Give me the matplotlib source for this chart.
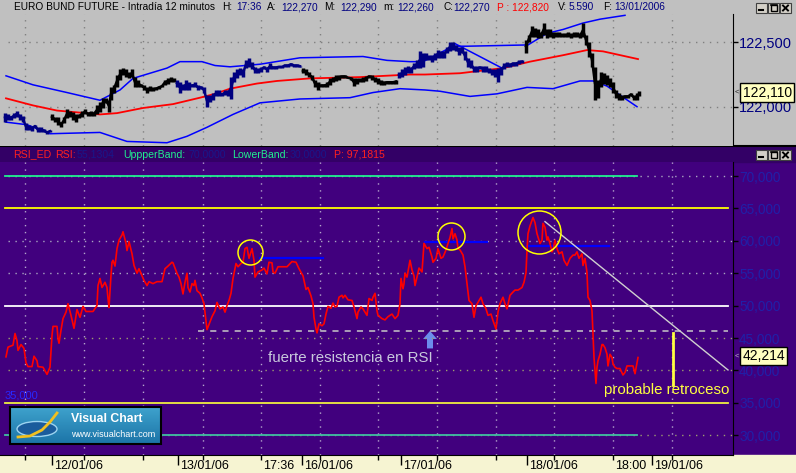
import matplotlib
matplotlib.use("Agg")
import matplotlib.pyplot as plt
import matplotlib.transforms as mtransforms
from matplotlib.patches import Rectangle, Ellipse, FancyArrow
import numpy as np

plt.rcParams['font.family'] = ['Liberation Sans', 'DejaVu Sans']

W, H = 796, 473

# ---- time axis ----
grid_t = [25, 84, 143, 203, 261, 320, 378, 437, 496, 554, 613, 672]
date_t = [52, 178, 302, 401, 527, 652]
date_labels = ["12/01/06", "13/01/06", "16/01/06", "17/01/06", "18/01/06", "19/01/06"]
time_t = [261, 613]
time_labels = ["17:36", "18:00"]

# ---- price bars (12 min) ----
bar_t = ([5, 8, 11, 14, 17, 20, 23, 26, 29, 32, 35, 38, 41, 44, 47, 50]
         + list(range(52, 110, 3)) + list(range(111, 175, 3))
         + list(range(177, 301, 3)) + list(range(303, 397, 3))
         + list(range(399, 523, 3)) + list(range(526, 638, 3)) + [639])
bar_lo = [121.88, 121.90, 121.90, 121.91, 121.92, 121.90, 121.88, 121.82, 121.82, 121.81, 121.84, 121.80, 121.80, 121.80, 121.79, 121.80,
          121.90, 121.88, 121.86, 121.84, 121.87, 121.91, 121.92, 121.90, 121.88, 121.91, 121.92, 121.94, 121.93, 121.93, 121.93, 121.94,
          121.96, 121.99, 122.03, 121.96, 122.05, 122.11, 122.15, 122.21, 122.25, 122.23, 122.22, 122.23, 122.15, 122.15, 122.15, 122.13,
          122.11, 122.12, 122.12, 122.13, 122.14, 122.15, 122.17, 122.18, 122.19, 122.19,
          122.15, 122.11, 122.13, 122.13, 122.13, 122.15, 122.15, 122.13, 122.14, 122.11,
          122.00, 122.04, 122.05, 122.08, 122.08, 122.08, 122.09, 122.08, 122.06, 122.19,
          122.22, 122.25, 122.23, 122.30, 122.31, 122.29, 122.26, 122.26, 122.27, 122.29,
          122.27, 122.29, 122.29, 122.29, 122.30, 122.30, 122.31, 122.31, 122.32, 122.31, 122.31, 122.31,
          122.26, 122.25, 122.23, 122.21, 122.15, 122.13, 122.15, 122.15, 122.15, 122.17,
          122.19, 122.20, 122.21, 122.22, 122.22, 122.22, 122.21, 122.16, 122.18, 122.19,
          122.19, 122.20, 122.22, 122.21, 122.19, 122.18, 122.17, 122.17, 122.18, 122.18, 122.18, 122.18,
          122.22, 122.23, 122.25, 122.26, 122.26, 122.29, 122.30, 122.30, 122.31, 122.36,
          122.36, 122.35, 122.36, 122.38, 122.38, 122.38, 122.42, 122.43, 122.44, 122.43,
          122.40, 122.42, 122.36, 122.31, 122.30, 122.27, 122.27, 122.29, 122.27, 122.27,
          122.26, 122.25, 122.23, 122.19, 122.25, 122.29, 122.31, 122.31, 122.32, 122.32, 122.33, 122.34,
          122.42, 122.50, 122.54, 122.54, 122.53, 122.53, 122.56, 122.53, 122.54, 122.53,
          122.54, 122.54, 122.54, 122.54, 122.54, 122.53, 122.54, 122.54, 122.53, 122.54,
          122.48, 122.39, 122.31, 122.05, 122.07, 122.15, 122.18, 122.17, 122.15, 122.11,
          122.07, 122.05, 122.05, 122.07, 122.07, 122.08, 122.05, 122.05, 122.08]
bar_hi = [121.95, 121.94, 121.93, 121.95, 121.97, 121.94, 121.93, 121.87, 121.86, 121.85, 121.86, 121.84, 121.84, 121.83, 121.81, 121.82,
          121.94, 121.92, 121.92, 121.88, 121.92, 121.98, 121.97, 121.96, 121.94, 121.94, 121.97, 121.98, 121.96, 121.97, 121.96, 122.01,
          122.04, 122.07, 122.07, 122.05, 122.15, 122.17, 122.25, 122.29, 122.30, 122.29, 122.27, 122.29, 122.23, 122.21, 122.18, 122.17,
          122.15, 122.16, 122.15, 122.15, 122.16, 122.17, 122.21, 122.22, 122.23, 122.22,
          122.21, 122.19, 122.18, 122.21, 122.19, 122.18, 122.19, 122.17, 122.16, 122.15,
          122.09, 122.09, 122.11, 122.13, 122.13, 122.11, 122.13, 122.13, 122.23, 122.27,
          122.29, 122.30, 122.29, 122.36, 122.38, 122.35, 122.31, 122.30, 122.31, 122.32,
          122.31, 122.34, 122.32, 122.32, 122.32, 122.32, 122.33, 122.33, 122.34, 122.33, 122.33, 122.32,
          122.30, 122.29, 122.27, 122.25, 122.21, 122.19, 122.18, 122.18, 122.19, 122.22,
          122.23, 122.25, 122.25, 122.25, 122.25, 122.23, 122.23, 122.22, 122.22, 122.22,
          122.23, 122.24, 122.25, 122.25, 122.23, 122.22, 122.21, 122.20, 122.20, 122.20, 122.20, 122.21,
          122.27, 122.29, 122.31, 122.32, 122.31, 122.34, 122.36, 122.43, 122.42, 122.42,
          122.40, 122.40, 122.42, 122.44, 122.43, 122.43, 122.46, 122.50, 122.50, 122.48,
          122.46, 122.46, 122.43, 122.38, 122.36, 122.32, 122.32, 122.32, 122.32, 122.32,
          122.30, 122.29, 122.29, 122.30, 122.31, 122.34, 122.35, 122.34, 122.35, 122.35, 122.36, 122.36,
          122.52, 122.56, 122.63, 122.61, 122.60, 122.58, 122.65, 122.60, 122.60, 122.58,
          122.58, 122.58, 122.57, 122.57, 122.58, 122.57, 122.58, 122.58, 122.57, 122.65,
          122.56, 122.50, 122.42, 122.31, 122.21, 122.27, 122.26, 122.25, 122.22, 122.19,
          122.13, 122.11, 122.09, 122.09, 122.09, 122.11, 122.09, 122.11, 122.12]
seg_edges = [0, 51, 176, 302, 398, 524, 733]
seg_colors = ["#000080", "#000000", "#000080", "#000000", "#000080", "#000000"]
last_price = 122.110

# bands
up_t = [6, 33, 67, 100, 120, 133, 167, 180, 202, 215, 230, 260, 300, 363, 387, 410, 423, 453, 467, 528, 547, 563, 583, 600, 625]
up_v = [122.24, 122.17, 122.11, 122.05, 122.13, 122.22, 122.30, 122.35, 122.35, 122.32, 122.31, 122.33, 122.38, 122.39, 122.36,
        122.35, 122.35, 122.47, 122.47, 122.48, 122.57, 122.60, 122.65, 122.68, 122.71]
mid_t = [6, 33, 57, 100, 117, 143, 173, 200, 215, 230, 257, 277, 310, 360, 410, 425, 460, 503, 530, 563, 587, 603, 638]
mid_v = [122.065, 122.01, 121.97, 121.94, 121.95, 121.99, 122.02, 122.07, 122.10, 122.14, 122.18, 122.20, 122.22, 122.23, 122.25,
         122.25, 122.26, 122.30, 122.35, 122.40, 122.44, 122.43, 122.37]
low_t = [6, 27, 50, 100, 127, 167, 187, 207, 233, 260, 300, 350, 373, 400, 425, 440, 470, 497, 527, 553, 580, 593, 607, 620, 637]
low_v = [121.88, 121.86, 121.79, 121.80, 121.73, 121.72, 121.77, 121.84, 121.94, 122.03, 122.06, 122.07, 122.11, 122.14, 122.13,
         122.12, 122.08, 122.10, 122.15, 122.14, 122.20, 122.20, 122.16, 122.09, 122.00]
trend_p_t = [455, 502]
trend_p_v = [122.49, 122.30]

# ---- RSI ----
rsi_t = [6, 8, 13, 15, 17, 18, 21, 24, 26, 28, 32, 34, 37, 38, 43, 47, 50, 52, 53, 57, 58, 59, 61, 63, 66, 68, 71, 74, 77, 80,
         83, 86, 93, 97, 98, 100, 102, 105, 107, 108, 109, 111, 112, 113, 115, 117, 119, 122, 123, 126, 127, 129, 132, 134, 137,
         139, 142, 144, 147, 149, 153, 157, 162, 165, 168, 172, 173, 177, 179, 181, 183, 185, 187, 188, 190, 192, 194, 195, 197,
         200, 202, 204, 206, 207, 210, 212, 215, 217, 220, 223, 225, 227, 229, 231, 233, 236, 238, 241, 243, 245, 247, 249, 252,
         254, 255, 258, 262, 264, 267, 269, 272, 273, 275, 278, 287, 292, 296, 299, 303, 306, 308, 311, 313, 314, 316, 317, 319,
         322, 324, 326, 328, 331, 333, 335, 337, 339, 342, 343, 345, 348, 352, 354, 357, 358, 361, 363, 367, 369, 372, 373, 375,
         377, 378, 382, 385, 388, 392, 395, 398, 400, 401, 403, 404, 405, 407, 410, 412, 414, 415, 417, 419, 422, 423, 424, 427,
         429, 432, 433, 436, 438, 441, 443, 446, 448, 450, 452, 453, 455, 457, 458, 460, 463, 465, 467, 469, 472, 474, 476, 478,
         481, 483, 486, 488, 491, 493, 496, 498, 500, 503, 505, 507, 510, 513, 515, 518, 522, 524, 526, 527, 528, 530, 533, 535,
         537, 540, 542, 543, 545, 547, 548, 550, 552, 553, 555, 557, 559, 562, 564, 567, 570, 573, 575, 577, 579, 582, 583, 585,
         587, 588, 590, 592, 593, 594, 596, 597, 598, 600, 602, 603, 605, 607, 608, 610, 612, 613, 615, 617, 620, 623, 625, 627,
         630, 633, 635, 637, 638]
rsi_v = [42.1, 43.6, 43.9, 45.7, 44.6, 43.1, 44.0, 43.4, 41.2, 40.6, 40.6, 42.2, 41.5, 40.6, 40.5, 39.4, 40.5, 45.4, 46.8, 46.8,
         44.9, 44.2, 46.2, 48.0, 49.0, 50.3, 48.5, 46.5, 49.4, 48.2, 49.9, 49.1, 49.1, 50.0, 53.1, 54.2, 52.8, 53.6, 52.8, 51.1,
         49.7, 54.7, 56.7, 57.0, 56.1, 58.8, 60.1, 60.9, 61.4, 59.6, 58.5, 59.9, 58.0, 56.2, 55.0, 55.7, 54.6, 53.9, 53.1, 53.7,
         53.4, 53.7, 53.7, 55.7, 56.1, 56.7, 56.6, 55.0, 54.4, 53.4, 51.8, 53.6, 55.0, 52.8, 52.1, 53.4, 53.1, 53.9, 52.3, 51.9,
         51.2, 50.3, 47.7, 46.3, 47.5, 48.3, 49.2, 50.5, 49.5, 49.8, 49.0, 50.0, 50.8, 51.9, 54.2, 56.5, 56.0, 56.5, 56.7, 58.8,
         59.0, 57.3, 58.8, 57.0, 54.4, 55.2, 55.5, 55.8, 54.9, 56.7, 56.6, 55.2, 55.0, 56.0, 56.0, 56.8, 56.7, 55.7, 54.6, 52.5,
         52.8, 51.5, 50.3, 48.2, 46.4, 45.8, 47.2, 46.9, 47.2, 48.7, 49.9, 49.6, 50.4, 49.8, 49.9, 51.3, 51.6, 51.2, 51.6, 50.9,
         50.8, 49.8, 48.0, 49.0, 49.8, 49.5, 48.5, 51.1, 50.8, 51.3, 51.9, 49.2, 48.5, 48.0, 47.8, 48.3, 48.7, 48.0, 48.5, 50.3,
         54.2, 52.6, 53.4, 55.0, 54.4, 57.0, 55.5, 54.6, 53.1, 54.4, 55.8, 55.2, 57.5, 59.6, 58.8, 59.0, 57.5, 56.7, 57.3, 58.8,
         57.3, 57.5, 58.6, 59.6, 60.5, 61.9, 60.3, 61.1, 60.1, 58.8, 58.6, 57.8, 56.0, 53.4, 50.8, 50.3, 48.2, 50.0, 50.5, 51.3,
         50.3, 49.5, 48.5, 48.7, 47.7, 46.4, 49.0, 50.3, 51.3, 50.3, 49.5, 51.6, 52.1, 52.4, 52.4, 52.8, 53.6, 55.1, 58.6, 61.1,
         62.3, 63.6, 62.8, 61.1, 59.6, 60.1, 62.7, 62.1, 60.1, 60.6, 59.6, 58.3, 58.6, 60.1, 58.8, 58.0, 58.3, 57.0, 56.2, 57.3,
         57.8, 57.8, 58.3, 57.3, 58.0, 56.2, 57.3, 55.1, 51.3, 50.8, 49.2, 45.7, 42.0, 38.0, 40.5, 41.5, 42.5, 44.0, 44.0, 43.5,
         42.5, 40.7, 42.5, 42.0, 41.0, 40.5, 40.3, 40.3, 39.3, 39.7, 40.7, 40.7, 40.7, 39.5, 41.2, 42.0]
last_rsi = 42.214

band_levels = [70, 65, 50, 35, 30]
band_colors = ["#20F090", "#FFFF00", "#FFFFFF", "#F0F040", "#40C0A0"]
band_end = [637, 728, 728, 728, 637]
grid_levels = [70, 60, 55, 45, 40, 30]

res_v = [57.3, 59.8, 59.2]
res_start = [260, 425, 527]
res_end = [323, 487, 609]
circle_t = [250, 451, 539]
circle_v = [58.2, 60.8, 61.4]
circle_px = [25, 27, 43]
support_v = 46.1
support_t = [198, 728]
trend_r_t = [545, 728]
trend_r_v = [62.96, 40.08]
retro_t = 673
retro_v = [45.8, 37.8]

PURPLE = "#41007E"
GRAY = "#C0C0C0"


def fmt(v, n=3):
    return f"{v:.{n}f}".replace(".", ",")


fig = plt.figure(figsize=(W / 100, H / 100), dpi=100, facecolor=GRAY)

# background pieces (pixel coordinates)
bg = fig.add_axes([0, 0, 1, 1], zorder=0)
bg.set_xlim(0, W)
bg.set_ylim(H, 0)
bg.axis("off")
bg.add_patch(Rectangle((0, 146), W, 309, color=PURPLE))
bg.add_patch(Rectangle((0, 147), W, 15, color="#330066"))
bg.add_patch(Rectangle((0, 455), W, 18, color="#F6F4D2"))
bg.plot([0, W], [146.5, 146.5], color="black", lw=1.5)

# ---- price panel ----
ax_p = fig.add_axes([0, (H - 146) / H, 733 / W, 132 / H], zorder=1)
ax_p.set_facecolor(GRAY)
ax_p.set_xlim(0, 733)
ax_p.set_ylim(121.6946, 122.7203)
for t in grid_t:
    ax_p.axvline(t, color="#808080", lw=1, ls=(0, (1, 4)))
for v in [122.0, 122.5]:
    ax_p.plot([8, 733], [v, v], color="#808080", lw=1, ls=(0, (1, 4)))

ax_p.plot(up_t, up_v, color="#0000FF", lw=1.1)
ax_p.plot(low_t, low_v, color="#0000FF", lw=1.1)
ax_p.plot(mid_t, mid_v, color="#FF0000", lw=1.3)
ax_p.plot(trend_p_t, trend_p_v, color="#0000FF", lw=1.1)

bt = np.array(bar_t)
blo = np.array(bar_lo)
bhi = np.array(bar_hi)
for a, b, c in zip(seg_edges[:-1], seg_edges[1:], seg_colors):
    m = (bt >= a) & (bt < b)
    ax_p.vlines(bt[m], blo[m], bhi[m], color=c, lw=2.5)
    ax_p.plot(bt[m], (blo[m] + bhi[m]) / 2, color=c, lw=1.8)

ax_p.set_xticks([])
ax_p.yaxis.tick_right()
ax_p.set_yticks([122.0, 122.5])
ax_p.set_yticklabels([fmt(v) for v in [122.0, 122.5]])
ax_p.tick_params(axis="y", direction="out", length=3.6, width=1, color="black",
                 labelcolor="#000080", labelsize=10.5, pad=0.8)
for s in ["top", "left", "bottom"]:
    ax_p.spines[s].set_visible(False)
ax_p.spines["right"].set_color("black")

tr_p = mtransforms.blended_transform_factory(ax_p.transAxes, ax_p.transData)
ax_p.text(1.013, last_price, fmt(last_price), transform=tr_p, fontsize=10, color="black",
          va="center", ha="left", clip_on=False,
          bbox=dict(boxstyle="square,pad=0.15", fc="#FFFFC0", ec="black", lw=1))
ax_p.text(1.002, last_price, "<", transform=tr_p, fontsize=5.5, color="#202020",
          va="center", ha="left", clip_on=False)

# ---- RSI panel ----
ax_r = fig.add_axes([0, (H - 455) / H, 733 / W, 293 / H], zorder=1)
ax_r.set_facecolor(PURPLE)
ax_r.set_xlim(0, 733)
ax_r.set_ylim(26.96, 72.16)
for t in grid_t:
    ax_r.axvline(t, color="#B4A4CC", lw=1, ls=(0, (1, 4)))
for v in grid_levels:
    c = "#9C9C70" if v < 50 else "#A8A4C0"
    ax_r.plot([8, 733], [v, v], color=c, lw=1, ls=(0, (1, 4)))
for v, c, e in zip(band_levels, band_colors, band_end):
    ax_r.plot([5, e], [v, v], color=c, lw=1.3)

ax_r.plot(support_t, [support_v, support_v], color="#C8C8C8", lw=1.1, ls=(0, (4, 4)))
for v, a, b in zip(res_v, res_start, res_end):
    ax_r.plot([a, b], [v, v], color="#0000FF", lw=1.6)
ax_r.plot(trend_r_t, trend_r_v, color="#D0D0D0", lw=1)
ax_r.plot(rsi_t, rsi_v, color="#FF0000", lw=1.2)
for t, v, d in zip(circle_t, circle_v, circle_px):
    ax_r.plot(t, v, marker="o", ms=d * 0.72, mfc="none", mec="#FFFF00", mew=1.1, ls="none")
ax_r.plot([retro_t, retro_t], retro_v, color="#FFFF40", lw=2)

ax_r.add_patch(FancyArrow(430, 43.4, 0, 2.7, width=6, head_width=14, head_length=1.25,
                          length_includes_head=True, color="#6C8CEC", lw=0))
ax_r.text(268, 41.9, "fuerte resistencia en RSI", color="#C8C8DC", fontsize=10.8, va="center", ha="left")
ax_r.text(604, 37.0, "probable retroceso", color="#FFFF40", fontsize=10.8, va="center", ha="left")
ax_r.text(5, 36.2, fmt(35.0), color="#2828FF", fontsize=8, va="center", ha="left")

ax_r.yaxis.tick_right()
rsi_ticks = [30, 35, 40, 45, 50, 55, 60, 65, 70]
ax_r.set_yticks(rsi_ticks)
ax_r.set_yticklabels([fmt(v) for v in rsi_ticks])
ax_r.tick_params(axis="y", direction="out", length=3.6, width=1, color="black",
                 labelcolor="#2020A8", labelsize=9.8, pad=0.8)
ax_r.set_xticks(grid_t)
ax_r.set_xticklabels([])
ax_r.set_xticks(date_t, minor=True)
ax_r.tick_params(axis="x", which="major", direction="out", length=3.6, width=1, color="black")
ax_r.tick_params(axis="x", which="minor", direction="out", length=7.2, width=1, color="black")
for s in ["top", "left"]:
    ax_r.spines[s].set_visible(False)
ax_r.spines["right"].set_color("black")
ax_r.spines["bottom"].set_color("black")

tr_x = mtransforms.blended_transform_factory(ax_r.transData, ax_r.transAxes)
for t, lab in zip(date_t + time_t, date_labels + time_labels):
    ax_r.text(t + 2, -0.038, lab, transform=tr_x, fontsize=9, color="black",
              va="center", ha="left", clip_on=False)

tr_r = mtransforms.blended_transform_factory(ax_r.transAxes, ax_r.transData)
ax_r.text(1.013, last_rsi, fmt(last_rsi), transform=tr_r, fontsize=10, color="black",
          va="center", ha="left", clip_on=False,
          bbox=dict(boxstyle="square,pad=0.15", fc="#FFFFC0", ec="black", lw=1))
ax_r.text(1.002, last_rsi, "<", transform=tr_r, fontsize=5.5, color="#C0C0C0",
          va="center", ha="left", clip_on=False)

# ---- overlay: titles, buttons, logo ----
fg = fig.add_axes([0, 0, 1, 1], zorder=5)
fg.set_xlim(0, W)
fg.set_ylim(H, 0)
fg.axis("off")
fg.patch.set_visible(False)

title_parts = [("EURO BUND FUTURE - Intradía 12 minutos", "black", 14), ("H:", "black", 222),
               ("17:36", "#000080", 236), ("A:", "black", 267), ("122,270", "#000080", 281),
               ("M:", "black", 324), ("122,290", "#000080", 340), ("m:", "black", 383),
               ("122,260", "#000080", 397), ("C:", "black", 443), ("122,270", "#000080", 453),
               ("P : 122,820", "#FF0000", 497), ("V:", "black", 558), ("5.590", "#000080", 569),
               ("F:", "black", 603), ("13/01/2006", "#000080", 614)]
for s, c, x in title_parts:
    fg.text(x, 7.5, s, color=c, fontsize=7.3, va="center", ha="left")

rsi_parts = [("RSI_ED", "#FF2020", 13), ("RSI:", "#FF2020", 55), ("55,1304", "#18188A", 77),
             ("UppperBand:", "#20F090", 123), ("70,0000", "#18188A", 188),
             ("LowerBand:", "#20F090", 232), ("30,0000", "#18188A", 290),
             ("P: 97,1815", "#FF2020", 334)]
for s, c, x in rsi_parts:
    fg.text(x, 154.5, s, color=c, fontsize=7.6, va="center", ha="left")


def buttons(y0):
    for i, x0 in enumerate([756, 768, 780]):
        fg.add_patch(Rectangle((x0, y0), 11, 10, fc="#D4D0C8", ec="#404040", lw=0.8))
        if i == 0:
            fg.plot([x0 + 3, x0 + 7], [y0 + 7.5, y0 + 7.5], color="black", lw=1.5)
        elif i == 1:
            fg.add_patch(Rectangle((x0 + 2.5, y0 + 2), 6, 6, fc="none", ec="black", lw=1))
            fg.plot([x0 + 2.5, x0 + 8.5], [y0 + 2.5, y0 + 2.5], color="black", lw=1.2)
        else:
            fg.plot([x0 + 3, x0 + 8], [y0 + 2.5, y0 + 7.5], color="black", lw=1.4)
            fg.plot([x0 + 3, x0 + 8], [y0 + 7.5, y0 + 2.5], color="black", lw=1.4)


buttons(3)
buttons(150)

# Visual Chart logo
grad = np.linspace(0, 1, 40).reshape(-1, 1)
fg.imshow(grad, extent=(10, 161, 444, 407), cmap=matplotlib.colors.LinearSegmentedColormap.from_list(
    "vc", ["#3EA2CC", "#1C74A8"]), aspect="auto", zorder=2)
fg.add_patch(Rectangle((10, 407), 151, 37, fc="none", ec="black", lw=1.5, zorder=3))
fg.add_patch(Ellipse((37, 429), 40, 15, fc="#1A5C9C", ec="#9CD4F0", lw=1, zorder=3))
fg.plot([18, 30, 42, 50, 57], [437, 436, 430, 422, 413], color="#F0C020", lw=2, zorder=4)
fg.text(71, 419, "Visual Chart", color="white", fontsize=8.8, fontweight="bold", va="center", ha="left", zorder=4)
fg.text(71, 434, "www.visualchart.com", color="white", fontsize=6.5, va="center", ha="left", zorder=4)
fg.set_xlim(0, W)
fg.set_ylim(H, 0)

fig.savefig("out.png", dpi=100, facecolor=fig.get_facecolor())
